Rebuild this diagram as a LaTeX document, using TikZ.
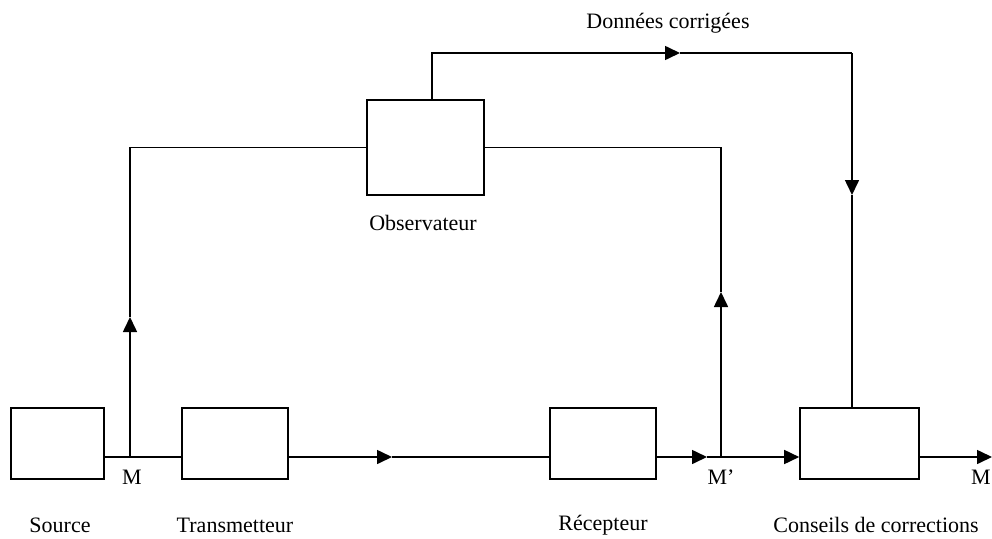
\documentclass[tikz,border=0pt]{standalone}
\usepackage{fontspec}
\setmainfont{Liberation Serif}
\usetikzlibrary{arrows.meta,calc}
\begin{document}
\begin{tikzpicture}[x=1pt,y=-1pt,
  line width=1.6pt,
  box/.style={draw,line width=1.6pt,minimum height=71pt,minimum width=#1,inner sep=0pt},
  arr/.style={-{Triangle[length=15pt,width=14pt]}},
  lbl/.style={font=\fontsize{22}{25}\selectfont,inner sep=0pt}
]
\useasboundingbox (0,0) rectangle (992,538);
% boxes
\node[box=93pt]  (src)   at (57.5,443.5) {};
\node[box=106pt] (trans) at (235,443.5) {};
\node[box=106pt] (rec)   at (603,443.5) {};
\node[box=119pt] (cons)  at (859.5,443.5) {};
\node[box=117pt,minimum height=95pt] (obs) at (425.5,147.5) {};
% coordinates
\coordinate (M)    at (130,457);
\coordinate (Mp)   at (721,457);
\coordinate (t1)   at (392,457);
\coordinate (t3)   at (707,457);
\coordinate (out)  at (992,457);
\coordinate (up1)  at (130,317);
\coordinate (up2)  at (721,292);
\coordinate (otop) at (432,53);
\coordinate (t2)   at (680,53);
\coordinate (ctop) at (852,53);
\coordinate (dn)   at (852,195);
% connectors
\draw (src.east |- M) -- (M) -- (trans.west |- M);
\draw[arr] (M) -- (up1);
\draw (up1) |- (obs.west);
\draw[arr] (trans.east |- M) -- (t1);
\draw (t1) -- (rec.west |- M);
\draw[arr] (rec.east |- M) -- (t3);
\draw (t3) -- (Mp);
\draw[arr] (Mp) -- (cons.west |- M);
\draw[arr] (Mp) -- (up2);
\draw (up2) |- (obs.east);
\draw[arr] (obs.north -| otop) |- (t2);
\draw (t2) -- (ctop);
\draw[arr] (ctop) -- (dn);
\draw (dn) -- (cons.north -| dn);
\draw[arr] (cons.east |- M) -- (out);
% labels
\node[lbl] (lM1) at (132,477) {M};
\node[lbl] (lM2) at (721,477) {M’};
\node[lbl] (lM3) at (981,477) {M};
\node[lbl] (lsrc) at (60,525) {Source};
\node[lbl] (ltr) at (235,525) {Transmetteur};
\node[lbl] (lrec) at (603,525) {Récepteur};
\node[lbl] (lcons) at (876,525) {Conseils de corrections};
\node[lbl] (lobs) at (423,223) {Observateur};
\node[lbl] (ldon) at (668,23) {Données corrigées};
\end{tikzpicture}
\end{document}
